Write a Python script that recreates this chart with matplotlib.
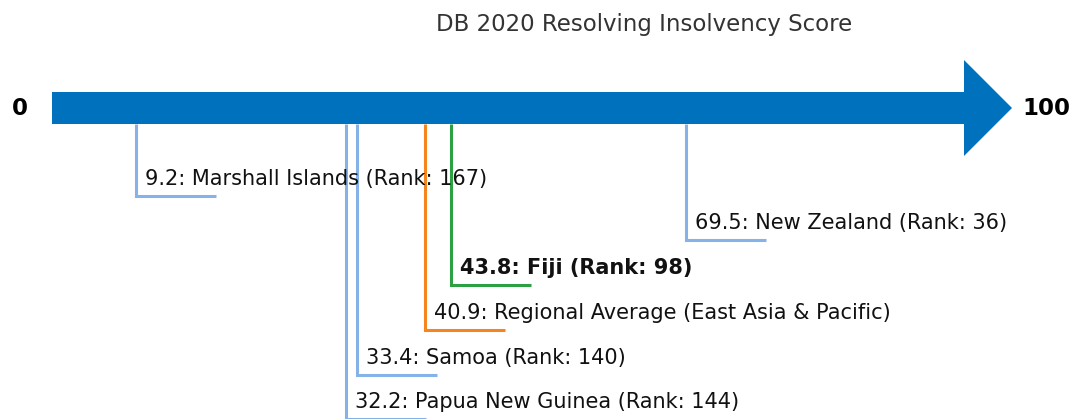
import matplotlib.pyplot as plt
from matplotlib.patches import Polygon

# Resolving insolvency scores (0-100) for the comparison economies
names = ['Marshall Islands', 'New Zealand', 'Fiji',
         'Regional Average (East Asia & Pacific)', 'Samoa', 'Papua New Guinea']
scores = [9.2, 69.5, 43.8, 40.9, 33.4, 32.2]
ranks = [167, 36, 98, None, 140, 144]
kinds = ['peer', 'peer', 'focus', 'region', 'peer', 'peer']

colors = {'peer': '#86b2ea', 'focus': '#2ca043', 'region': '#f5861f'}

W, H = 1072, 419
fig = plt.figure(figsize=(W / 100, H / 100), dpi=100)
ax = fig.add_axes([0, 0, 1, 1])

px = 9.12  # pixels per score point
x0 = 52    # pixel position of score 0
ax.set_xlim(-x0 / px, (W - x0) / px)
ax.set_ylim(H, 0)
ax.axis('off')

# main arrow
bar_y, bar_h, head_h = 108, 16, 48
head_len = 48 / px
arrow = Polygon([(0, bar_y - bar_h), (100, bar_y - bar_h), (100, bar_y - head_h),
                 (100 + head_len, bar_y), (100, bar_y + head_h), (100, bar_y + bar_h),
                 (0, bar_y + bar_h)], closed=True, color='#0071bc', lw=0)
ax.add_patch(arrow)

ax.text(-32 / px, bar_y, '0', ha='center', va='center', fontsize=16.5, fontweight='bold')
ax.text(100 + 82 / px, bar_y, '100', ha='center', va='center', fontsize=16.5, fontweight='bold')

ax.text((644 - x0) / px, 24, 'DB 2020 Resolving Insolvency Score', ha='center', va='center',
        fontsize=16.5, color='#333333')

levels = [196, 240, 285, 330, 375, 419]
seg = 80 / px
for name, s, r, k, lv in zip(names, scores, ranks, kinds, levels):
    c = colors[k]
    ax.plot([s, s, s + seg], [bar_y + bar_h, lv, lv], color=c, lw=2.2,
            solid_joinstyle='miter', solid_capstyle='butt')
    label = f'{s}: {name}' if r is None else f'{s}: {name} (Rank: {r})'
    ax.text(s + 9 / px, lv - 11, label, ha='left', va='baseline', fontsize=15,
            fontweight='bold' if k == 'focus' else 'normal', color='#111111')

fig.savefig('out.png', dpi=100)
